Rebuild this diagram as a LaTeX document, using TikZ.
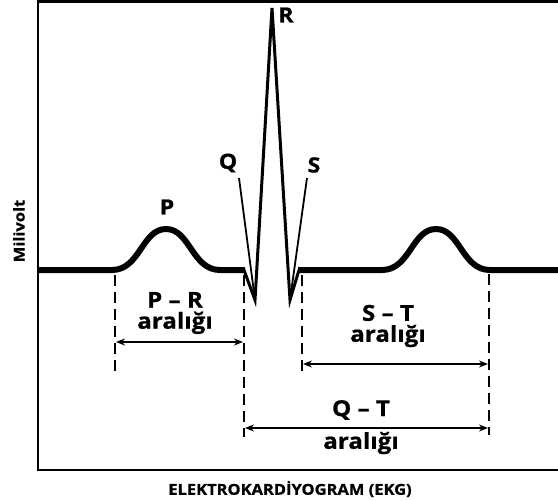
\documentclass[tikz,border=0pt]{standalone}
\usepackage{fontspec}
\setmainfont{Open Sans}
\newfontfamily\heavyfont{Open Sans}[FakeStretch=1.1, FakeBold=0.8]
\usetikzlibrary{arrows.meta}
\tikzset{
  frame/.style={draw, line width=2.2pt},
  wave/.style={line width=6pt, line join=round},
  spike/.style={line width=3pt, line join=miter},
  leader/.style={line width=1.8pt},
  guide/.style={line width=1.6pt, dash pattern=on 11pt off 6pt},
  span/.style={{Stealth[length=9pt,width=7pt]}-{Stealth[length=9pt,width=7pt]}, line width=1.6pt},
  klabel/.style={font=\heavyfont\fontsize{22}{24}\bfseries\selectfont, inner sep=0pt, align=center},
  kletter/.style={font=\heavyfont\fontsize{21}{23}\bfseries\selectfont, inner sep=0pt},
  kaxis/.style={font=\heavyfont\fontsize{15}{17}\bfseries\selectfont, inner sep=0pt},
}
\begin{document}
\begin{tikzpicture}[x=1pt, y=-1pt]
  \useasboundingbox (0,0) rectangle (558,501);
  % frame (open on the right)
  \draw[frame] (558,1.5) -- (38,1.5) -- (38,470) -- (558,470);
  % baseline with P and T waves
  \draw[wave] (38,270) -- (112,270)
    .. controls (140,270) and (142,229) .. (166,229)
    .. controls (190,229) and (192,270) .. (220,270) -- (245,270);
  \draw[wave] (298,270) -- (382,270)
    .. controls (410,270) and (412,229) .. (436,229)
    .. controls (460,229) and (462,270) .. (490,270) -- (558,270);
  % QRS complex
  \coordinate (qdip) at (255,300);
  \coordinate (rtop) at (272,8);
  \coordinate (sdip) at (290,300);
  \draw[spike] (244,270) -- (qdip) -- (rtop) -- (sdip) -- (299,270);
  % wave letters
  \node[kletter] (P) at (167,207) {P};
  \node[kletter] (Q) at (228,163) {Q};
  \node[kletter] (R) at (286,15) {R};
  \node[kletter] (S) at (314,165) {S};
  \coordinate (qend) at (239,178);
  \coordinate (send) at (307,178);
  \draw[leader] (qend) -- (qdip);
  \draw[leader] (send) -- (sdip);
  % dashed guides
  \coordinate (g1a) at (115,275); \coordinate (g1b) at (115,373);
  \coordinate (g2a) at (244,275); \coordinate (g2b) at (244,437);
  \coordinate (g3a) at (302,275); \coordinate (g3b) at (302,372);
  \coordinate (g4a) at (489,274); \coordinate (g4b) at (489,435);
  \foreach \g in {1,...,4}
    \draw[guide] (g\g a) -- (g\g b);
  % intervals
  \coordinate (pr1) at (116,342); \coordinate (pr2) at (243,342);
  \coordinate (st1) at (303,364); \coordinate (st2) at (488,364);
  \coordinate (qt1) at (245,428); \coordinate (qt2) at (488,428);
  \draw[span] (pr1) -- (pr2);
  \draw[span] (st1) -- (st2);
  \draw[span] (qt1) -- (qt2);
  \node[klabel] (prtext) at (175,313) {P – R\\[-3pt]aralığı};
  \node[klabel] (sttext) at (388,326) {S – T\\[-3pt]aralığı};
  \node[klabel] (qttop) at (361,410) {Q – T};
  \node[klabel] (qtbot) at (361,443) {aralığı};
  % axis labels
  \node[kaxis, rotate=90] (yaxis) at (19,231) {Milivolt};
  \node[kaxis] (xaxis) at (290,489) {ELEKTROKARDİYOGRAM (EKG)};
\end{tikzpicture}
\end{document}
